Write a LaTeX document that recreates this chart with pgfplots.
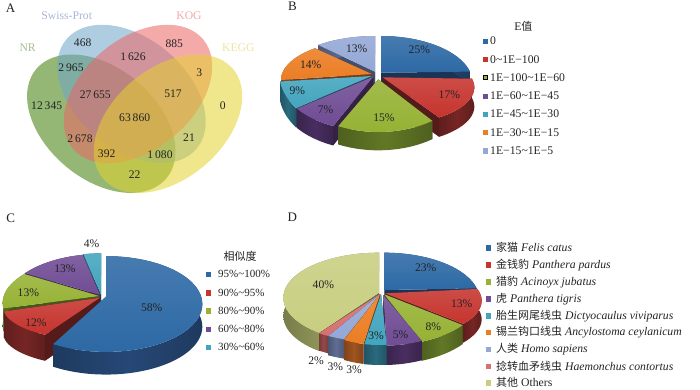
\documentclass[border=0pt]{standalone}
\usepackage{fontspec}
\setmainfont{Liberation Serif}
\newfontfamily\cjk[Scale=0.94]{Noto Sans CJK SC}
\usepackage{pgfplots}
\pgfplotsset{compat=1.18}
\tikzset{lbl/.style={text=Tx,inner sep=0pt,anchor=center,font=\fontsize{11.6}{12}\selectfont},
  lblL/.style={text=Tx,inner sep=0pt,anchor=west,font=\fontsize{11.7}{12}\selectfont}}
\definecolor{Bl}{RGB}{45,105,165}\definecolor{BlS}{RGB}{38,72,118}
\definecolor{Re}{RGB}{198,52,46}\definecolor{ReS}{RGB}{118,38,36}
\definecolor{Gr}{RGB}{150,178,52}\definecolor{GrS}{RGB}{98,120,38}
\definecolor{Pu}{RGB}{112,76,148}\definecolor{PuS}{RGB}{72,46,96}
\definecolor{Te}{RGB}{66,165,190}\definecolor{TeS}{RGB}{42,106,126}
\definecolor{Or}{RGB}{235,125,36}\definecolor{OrS}{RGB}{160,84,32}
\definecolor{Lb}{RGB}{148,168,214}\definecolor{LbS}{RGB}{96,110,148}
\definecolor{Pk}{RGB}{215,112,112}\definecolor{PkS}{RGB}{150,72,72}
\definecolor{Ol}{RGB}{200,206,128}\definecolor{OlS}{RGB}{150,156,92}
\definecolor{VG}{RGB}{60,124,6}\definecolor{VB}{RGB}{110,164,200}
\definecolor{VR}{RGB}{237,100,100}\definecolor{VY}{RGB}{228,210,46}
\definecolor{Tx}{RGB}{35,35,35}
\def\OX{0}\def\OY{0}\def\RX{275}\def\RY{140}\def\DP{55}
\newcommand{\setorg}[2]{\def\OX{#1}\def\OY{#2}}
\newcommand{\setell}[3]{\def\RX{#1}\def\RY{#2}\def\DP{#3}}
\newcommand{\drawpoly}[1]{\toks0={\addplot[#1] coordinates}\edef\tmpcmd{\the\toks0{\polycoords};}\tmpcmd}
\newcommand{\addpt}[2]{\pgfmathsetmacro\xx{\OX+(#1)/3}\pgfmathsetmacro\yy{\OY+(#2)/3}\xdef\polycoords{\polycoords (\xx,\yy)}}
\newcommand{\arcpts}[5]{%
  \pgfmathtruncatemacro\nn{max(2,ceil(abs(#4-(#3))/4))}%
  \foreach \i in {0,...,\nn}{%
    \pgfmathsetmacro\tv{#3+(#4-(#3))*\i/\nn}%
    \pgfmathsetmacro\xx{\OX+(#1+\RX*cos(\tv))/3}%
    \pgfmathsetmacro\yy{\OY+(#2+\RY*sin(\tv)+#5)/3}%
    \xdef\polycoords{\polycoords (\xx,\yy)}%
  }}
% P x, P y, centre x, centre y, start and end angle, colour family
\newcommand{\pw}[7]{%
  \pgfmathsetmacro\ax{#3+\RX*cos(#5)}\pgfmathsetmacro\ay{#4+\RY*sin(#5)}%
  \pgfmathsetmacro\bx{#3+\RX*cos(#6)}\pgfmathsetmacro\by{#4+\RY*sin(#6)}%
  \gdef\polycoords{}\addpt{#1}{#2}\addpt{\ax}{\ay}\addpt{\ax}{\ay+\DP}\addpt{#1}{#2+\DP}%
  \drawpoly{fill=#7S!72!black,draw=none}%
  \gdef\polycoords{}\addpt{#1}{#2}\addpt{\bx}{\by}\addpt{\bx}{\by+\DP}\addpt{#1}{#2+\DP}%
  \drawpoly{fill=#7S!72!black,draw=none}%
  \gdef\polycoords{}\arcpts{#3}{#4}{#5}{#6}{0}\arcpts{#3}{#4}{#6}{#5}{\DP}%
  \drawpoly{left color=#7S!80!black,right color=#7S!80!black,middle color=#7S,draw=none}%
  \gdef\polycoords{}\addpt{#1}{#2}\arcpts{#3}{#4}{#5}{#6}{0}%
  \drawpoly{top color=#7!88!white,bottom color=#7,draw=none}%
}
\newcommand{\vennell}[6]{%
  \gdef\polycoords{}%
  \foreach \i in {0,5,...,355}{%
    \pgfmathsetmacro\xx{#1+#3*cos(\i)*cos(#5)-#4*sin(\i)*sin(#5)}%
    \pgfmathsetmacro\yy{#2+#3*cos(\i)*sin(#5)+#4*sin(\i)*cos(#5)}%
    \xdef\polycoords{\polycoords (\xx,\yy)}%
  }%
  \drawpoly{fill=#6,fill opacity=0.55,draw=none}%
}
\newcommand{\lab}[3]{\pgfmathsetmacro\lx{\OX+#1/3}\pgfmathsetmacro\ly{\OY+#2/3}\toks0={#3}%
  \edef\tmpcmd{\noexpand\node[lbl] at (axis cs:\lx,\ly) {\the\toks0};}\tmpcmd}
\newcommand{\mk}[3]{\toks0={\addplot[only marks,mark=square*,mark size=2.3pt,#3] coordinates}\edef\tmpcmd{\the\toks0{(#1,#2)};}\tmpcmd}
\newcommand{\lft}[3]{\toks0={#3}\edef\tmpcmd{\noexpand\node[lblL] at (axis cs:#1,#2) {\the\toks0};}\tmpcmd}
\begin{document}
\begin{tikzpicture}
\useasboundingbox (0,0) rectangle (700pt,389pt);
\begin{axis}[scale only axis,width=700pt,height=389pt,xmin=0,xmax=700,ymin=0,ymax=389,y dir=reverse,hide axis,clip=false]
% A: Venn
\vennell{101.3}{123.7}{85}{55.5}{40}{VG}
\vennell{131.5}{94}{85}{55.5}{40}{VB}
\vennell{138}{94}{85}{55.5}{-40}{VR}
\vennell{168}{123.7}{85}{55.5}{-40}{VY}
\setorg{0}{0}
\lab{32}{24}{\fontsize{13}{14}\selectfont A}
\lab{200}{47}{\textcolor[RGB]{170,180,215}{\fontsize{11.7}{12}\selectfont Swiss-Prot}}
\lab{567}{47}{\textcolor[RGB]{240,170,170}{\fontsize{11.7}{12}\selectfont KOG}}
\lab{715}{144}{\textcolor[RGB]{235,228,160}{\fontsize{11.7}{12}\selectfont KEGG}}
\lab{83}{144}{\textcolor[RGB]{165,190,150}{\fontsize{11.7}{12}\selectfont NR}}
\lab{248}{128}{468}\lab{523}{130}{885}\lab{213}{203}{2\,965}\lab{399}{170}{1\,626}
\lab{598}{218}{3}\lab{286}{284}{27\,655}\lab{519}{282}{517}\lab{140}{318}{12\,345}
\lab{668}{318}{0}\lab{404}{353}{63\,860}\lab{240}{417}{2\,678}\lab{567}{412}{21}
\lab{320}{460}{392}\lab{480}{463}{1\,080}\lab{404}{523}{22}
% B
\setorg{270}{0}
\setell{275}{141}{55}\pw{333}{218}{333}{249}{-90}{-14}{Bl}
\setell{272}{123}{55}\pw{315}{215}{315}{231}{231.3}{270}{Lb}
\setell{272}{122}{55}\pw{305}{222}{305}{240}{180}{231.3}{Or}
\setell{275}{115}{58}\pw{338}{232}{338}{262}{-13}{52}{Re}
\setell{278}{186}{58}\pw{305}{228}{305}{217}{144.8}{171.5}{Te}
\setell{280}{160}{58}\pw{310}{230}{310}{234}{115.5}{145}{Pu}
\setell{275}{174}{55}\pw{325}{238}{325}{222}{53.9}{115.9}{Gr}
\lab{67}{20}{\fontsize{13}{14}\selectfont B}
\lab{448}{150}{25\%}\lab{538}{285}{17\%}\lab{342}{352}{15\%}\lab{167}{330}{7\%}
\lab{82}{272}{9\%}\lab{122}{195}{14\%}\lab{260}{145}{13\%}
\lab{760}{78}{\fontsize{11.7}{12}\selectfont E{\cjk 值}}
\mk{485}{41}{Bl}\mk{485}{59.3}{Re}\mk{485}{77.3}{fill=Gr,draw=black}\mk{485}{96}{Pu}\mk{485}{114}{Te}\mk{485}{132.3}{Or}\mk{485}{150.7}{Lb}
\lft{490}{41}{0}
\lft{490}{59.3}{0\textasciitilde 1E−100}
\lft{490}{77.3}{1E−100\textasciitilde 1E−60}
\lft{490}{96}{1E−60\textasciitilde 1E−45}
\lft{490}{114}{1E−45\textasciitilde 1E−30}
\lft{490}{132.3}{1E−30\textasciitilde 1E−15}
\lft{490}{150.7}{1E−15\textasciitilde 1E−5}
% C
\setorg{0}{200}
\setell{290}{150}{68}\pw{303}{283}{303}{310}{259.5}{270}{Te}
\setell{290}{156}{68}\pw{300}{285}{300}{318}{219.1}{259.7}{Pu}
\setell{290}{138}{68}\pw{298}{288}{298}{309}{173.3}{219.1}{Gr}
\setell{290}{99}{78}\pw{300}{293}{300}{323}{124.7}{173.3}{Re}
\setell{289}{143.7}{68}\pw{318}{290}{318}{312}{-90}{123.2}{Bl}
\lab{32}{55}{\fontsize{13}{14}\selectfont C}
\lab{455}{323}{58\%}\lab{108}{368}{12\%}\lab{85}{277}{13\%}\lab{195}{207}{13\%}\lab{275}{132}{4\%}
\lab{720}{170}{\fontsize{11.7}{12}\selectfont{\cjk 相似度}}
\mk{208}{274}{Bl}\mk{208}{292.7}{Re}\mk{208}{310.7}{Gr}\mk{208}{329.3}{Pu}\mk{208}{347.3}{Te}
\lft{218}{274}{\fontsize{11}{12}\selectfont 95\%\textasciitilde 100\%}
\lft{218}{292.7}{\fontsize{11}{12}\selectfont 90\%\textasciitilde 95\%}
\lft{218}{310.7}{\fontsize{11}{12}\selectfont 80\%\textasciitilde 90\%}
\lft{218}{329.3}{\fontsize{11}{12}\selectfont 60\%\textasciitilde 80\%}
\lft{218}{347.3}{\fontsize{11}{12}\selectfont 30\%\textasciitilde 60\%}
% D
\setorg{270}{200}
\setell{287}{135}{55}\pw{327}{278}{327}{293}{128.8}{270}{Ol}
\setell{285}{140}{55}\pw{343}{270}{343}{298}{-90}{-13.6}{Bl}
\setell{290}{119}{56}\pw{345}{280}{345}{302}{-17.2}{35.9}{Re}
\setell{290}{116}{52}\pw{330}{282}{330}{310}{122.3}{129.1}{Pk}
\setell{290}{120}{58}\pw{330}{282}{330}{306.6}{111.8}{122.3}{Lb}
\setell{290}{210}{60}\pw{330}{282}{330}{225}{99.9}{111.8}{Or}
\setell{290}{149}{57}\pw{343}{283}{343}{288}{35.9}{67.3}{Gr}
\setell{290}{173}{58}\pw{340}{285}{340}{264}{66.6}{88}{Pu}
\setell{290}{154}{60}\pw{333}{283}{333}{281}{86.6}{99.9}{Te}
\lab{67}{52}{\fontsize{13}{14}\selectfont D}
\lab{467}{203}{23\%}\lab{575}{310}{13\%}\lab{490}{380}{8\%}\lab{392}{405}{5\%}\lab{318}{407}{3\%}
\lab{160}{255}{40\%}\lab{138}{483}{2\%}\lab{196}{500}{3\%}\lab{252}{510}{3\%}
\mk{488}{247.7}{Bl}\mk{488}{264.7}{Re}\mk{488}{281.7}{Gr}\mk{488}{298.7}{Pu}\mk{488}{315.7}{Te}\mk{488}{332.3}{Or}\mk{488}{349.3}{Lb}\mk{488}{366}{Pk}\mk{488}{382.7}{Ol}
\lft{496}{247.7}{{\cjk 家猫} \textit{Felis catus}}
\lft{496}{264.7}{{\cjk 金钱豹} \textit{Panthera pardus}}
\lft{496}{281.7}{{\cjk 猎豹} \textit{Acinoyx jubatus}}
\lft{496}{298.7}{{\cjk 虎} \textit{Panthera tigris}}
\lft{496}{315.7}{{\cjk 胎生网尾线虫} \textit{Dictyocaulus viviparus}}
\lft{496}{332.3}{{\cjk 锡兰钩口线虫} \textit{Ancylostoma ceylanicum}}
\lft{496}{349.3}{{\cjk 人类} \textit{Homo sapiens}}
\lft{496}{366}{{\cjk 捻转血矛线虫} \textit{Haemonchus contortus}}
\lft{496}{382.7}{{\cjk 其他} Others}
\end{axis}
\end{tikzpicture}
\end{document}
